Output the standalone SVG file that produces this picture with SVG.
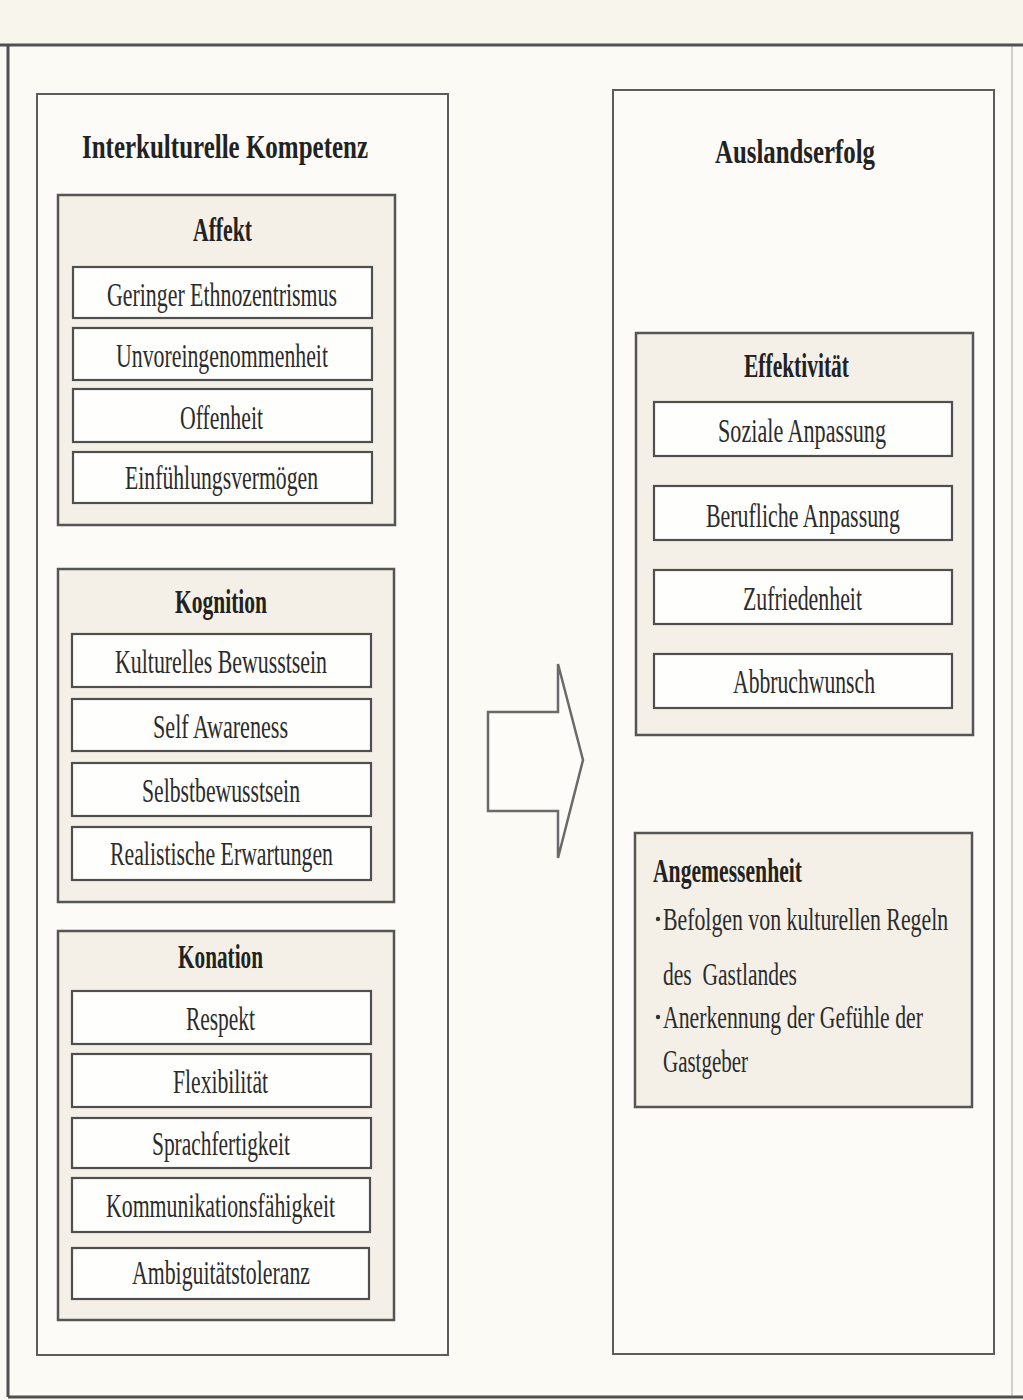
<svg xmlns="http://www.w3.org/2000/svg" width="1023" height="1400" viewBox="0 0 1023 1400">
  <style>
    .page { fill: #fbfaf5; }
    .strip { fill: #f8f5ec; }
    .frame { fill: none; stroke: #505050; stroke-width: 3; }
    .frame-faint { fill: none; stroke: #c4c2bc; stroke-width: 1.5; }
    .col { fill: #fcfbf8; stroke: #5c5c5c; stroke-width: 2; }
    .cat { fill: #f4f0e7; stroke: #555555; stroke-width: 2.5; }
    .item { fill: #fefefc; stroke: #4f4f4f; stroke-width: 2.2; }
    .arrow { fill: #fdfcf9; stroke: #6a6a6a; stroke-width: 2.5; stroke-linejoin: miter; }
    .h { font-family: "Liberation Serif", "Times New Roman", serif; font-weight: bold; font-size: 33px; fill: #222222; }
    .t { font-family: "Liberation Serif", "Times New Roman", serif; font-size: 33px; fill: #2b2b2b; }
    .s { font-family: "Liberation Serif", "Times New Roman", serif; font-size: 31px; fill: #2b2b2b; }
    .dot { fill: #333333; }
  </style>

  <!-- page and outer frame -->
  <rect class="page" x="0" y="0" width="1023" height="1400"/>
  <rect class="strip" x="0" y="0" width="1023" height="44"/>
  <line class="frame-faint" x1="1012" y1="46" x2="1012" y2="1396"/>
  <line class="frame" x1="0" y1="45" x2="1023" y2="45"/>
  <line class="frame" x1="8" y1="45" x2="8" y2="1397"/>
  <line class="frame" x1="8" y1="1397" x2="1023" y2="1397"/>

  <!-- left column: intercultural competence -->
  <g id="interkulturelle-kompetenz">
    <rect class="col" x="37" y="94" width="411" height="1261"/>
    <text class="h" x="82" y="158" textLength="286" lengthAdjust="spacingAndGlyphs">Interkulturelle Kompetenz</text>
  </g>

  <g id="affekt">
    <rect class="cat" x="58" y="195" width="337" height="330"/>
    <text class="h" x="193" y="241" textLength="59" lengthAdjust="spacingAndGlyphs">Affekt</text>
  </g>
  <g id="geringer-ethnozentrismus">
    <rect class="item" x="73" y="267" width="299" height="51"/>
    <text class="t" x="107" y="306" textLength="230" lengthAdjust="spacingAndGlyphs">Geringer Ethnozentrismus</text>
  </g>
  <g id="unvoreingenommenheit">
    <rect class="item" x="73" y="328" width="299" height="52"/>
    <text class="t" x="116" y="367" textLength="212" lengthAdjust="spacingAndGlyphs">Unvoreingenommenheit</text>
  </g>
  <g id="offenheit">
    <rect class="item" x="73" y="389" width="299" height="53"/>
    <text class="t" x="180" y="429" textLength="83" lengthAdjust="spacingAndGlyphs">Offenheit</text>
  </g>
  <g id="einfuehlungsvermoegen">
    <rect class="item" x="73" y="452" width="299" height="51"/>
    <text class="t" x="125" y="489" textLength="193" lengthAdjust="spacingAndGlyphs">Einfühlungsvermögen</text>
  </g>

  <g id="kognition">
    <rect class="cat" x="58" y="569" width="336" height="333"/>
    <text class="h" x="175" y="613" textLength="92" lengthAdjust="spacingAndGlyphs">Kognition</text>
  </g>
  <g id="kulturelles-bewusstsein">
    <rect class="item" x="72" y="634" width="299" height="53"/>
    <text class="t" x="115" y="673" textLength="212" lengthAdjust="spacingAndGlyphs">Kulturelles Bewusstsein</text>
  </g>
  <g id="self-awareness">
    <rect class="item" x="72" y="699" width="299" height="52"/>
    <text class="t" x="153" y="738" textLength="135" lengthAdjust="spacingAndGlyphs">Self Awareness</text>
  </g>
  <g id="selbstbewusstsein">
    <rect class="item" x="72" y="763" width="299" height="53"/>
    <text class="t" x="142" y="802" textLength="158" lengthAdjust="spacingAndGlyphs">Selbstbewusstsein</text>
  </g>
  <g id="realistische-erwartungen">
    <rect class="item" x="72" y="827" width="299" height="53"/>
    <text class="t" x="110" y="865" textLength="223" lengthAdjust="spacingAndGlyphs">Realistische Erwartungen</text>
  </g>

  <g id="konation">
    <rect class="cat" x="58" y="931" width="336" height="389"/>
    <text class="h" x="178" y="968" textLength="85" lengthAdjust="spacingAndGlyphs">Konation</text>
  </g>
  <g id="respekt">
    <rect class="item" x="72" y="991" width="299" height="53"/>
    <text class="t" x="186" y="1030" textLength="69" lengthAdjust="spacingAndGlyphs">Respekt</text>
  </g>
  <g id="flexibilitaet">
    <rect class="item" x="72" y="1054" width="299" height="53"/>
    <text class="t" x="173" y="1093" textLength="95" lengthAdjust="spacingAndGlyphs">Flexibilität</text>
  </g>
  <g id="sprachfertigkeit">
    <rect class="item" x="72" y="1118" width="299" height="50"/>
    <text class="t" x="152" y="1155" textLength="138" lengthAdjust="spacingAndGlyphs">Sprachfertigkeit</text>
  </g>
  <g id="kommunikationsfaehigkeit">
    <rect class="item" x="72" y="1178" width="298" height="54"/>
    <text class="t" x="106" y="1217" textLength="229" lengthAdjust="spacingAndGlyphs">Kommunikationsfähigkeit</text>
  </g>
  <g id="ambiguitaetstoleranz">
    <rect class="item" x="72" y="1248" width="297" height="51"/>
    <text class="t" x="132" y="1284" textLength="178" lengthAdjust="spacingAndGlyphs">Ambiguitätstoleranz</text>
  </g>

  <!-- right column: success abroad -->
  <g id="auslandserfolg">
    <rect class="col" x="613" y="90" width="381" height="1264"/>
    <text class="h" x="715" y="163" textLength="160" lengthAdjust="spacingAndGlyphs">Auslandserfolg</text>
  </g>

  <g id="effektivitaet">
    <rect class="cat" x="636" y="333" width="337" height="402"/>
    <text class="h" x="744" y="377" textLength="105" lengthAdjust="spacingAndGlyphs">Effektivität</text>
  </g>
  <g id="soziale-anpassung">
    <rect class="item" x="654" y="402" width="298" height="54"/>
    <text class="t" x="718" y="442" textLength="168" lengthAdjust="spacingAndGlyphs">Soziale Anpassung</text>
  </g>
  <g id="berufliche-anpassung">
    <rect class="item" x="654" y="486" width="298" height="54"/>
    <text class="t" x="706" y="527" textLength="194" lengthAdjust="spacingAndGlyphs">Berufliche Anpassung</text>
  </g>
  <g id="zufriedenheit">
    <rect class="item" x="654" y="570" width="298" height="54"/>
    <text class="t" x="743" y="610" textLength="119" lengthAdjust="spacingAndGlyphs">Zufriedenheit</text>
  </g>
  <g id="abbruchwunsch">
    <rect class="item" x="654" y="654" width="298" height="54"/>
    <text class="t" x="733" y="693" textLength="142" lengthAdjust="spacingAndGlyphs">Abbruchwunsch</text>
  </g>

  <g id="angemessenheit">
    <rect class="cat" x="635" y="833" width="337" height="274"/>
    <text class="h" x="653" y="882" font-size="31" textLength="149" lengthAdjust="spacingAndGlyphs">Angemessenheit</text>
    <!-- bullet points; long lines are set in a horizontally narrowed frame -->
    <circle class="dot" cx="658" cy="919" r="2.2"/>
    <g transform="translate(663,930) scale(0.72,1)">
      <text class="s" x="0" y="0" textLength="396" lengthAdjust="spacingAndGlyphs">Befolgen von kulturellen Regeln</text>
    </g>
    <text class="s" x="663" y="985" xml:space="preserve" textLength="134" lengthAdjust="spacingAndGlyphs">des  Gastlandes</text>
    <circle class="dot" cx="658" cy="1017" r="2.2"/>
    <g transform="translate(663,1028) scale(0.72,1)">
      <text class="s" x="0" y="0" textLength="361" lengthAdjust="spacingAndGlyphs">Anerkennung der Gefühle der</text>
    </g>
    <text class="s" x="663" y="1072" textLength="85" lengthAdjust="spacingAndGlyphs">Gastgeber</text>
  </g>

  <!-- connector: block arrow from competence to success -->
  <g id="connectors">
    <polygon class="arrow" points="488,712 558,712 558,664 583,760 558,858 558,811 488,811"/>
  </g>
</svg>
